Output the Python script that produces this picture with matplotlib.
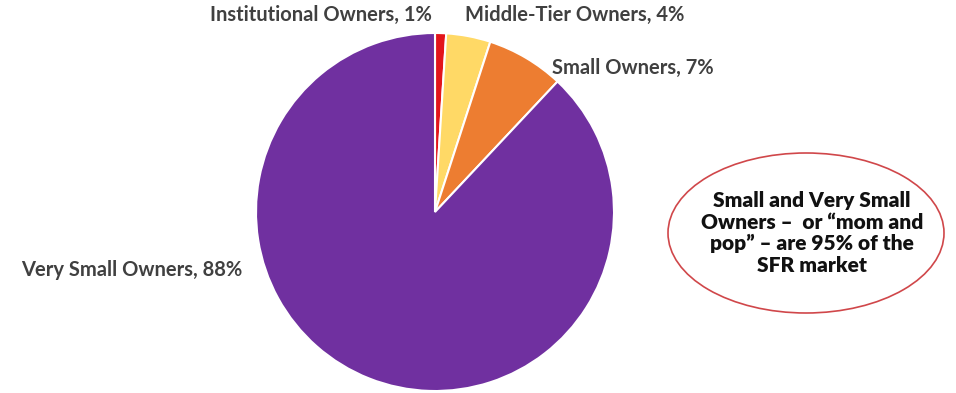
import matplotlib
matplotlib.use("Agg")
import matplotlib.pyplot as plt
from matplotlib.patches import Ellipse

# Data
categories = ["Institutional Owners", "Middle-Tier Owners", "Small Owners", "Very Small Owners"]
shares = [1, 4, 7, 88]
colors = ["#E3151B", "#FFD966", "#ED7D31", "#7030A0"]
callout = "Small and Very Small\nOwners \u2013  or \u201cmom and\npop\u201d \u2013 are 95% of the\nSFR market"

W, H = 956, 393
plt.rcParams["font.family"] = ["Lato", "DejaVu Sans"]
TEXT = "#404040"

fig = plt.figure(figsize=(W / 100, H / 100), dpi=100)
ax = fig.add_axes([0, 0, 1, 1])

# pie in pixel coordinates, clockwise from 12 o'clock
cx, cy, r = 435, H - 212, 179
ax.pie(shares, colors=colors, startangle=90, counterclock=False,
       center=(cx, cy), radius=r,
       wedgeprops=dict(edgecolor="white", linewidth=1.5))

ax.set_xlim(0, W)
ax.set_ylim(0, H)
ax.set_aspect("equal")
ax.axis("off")

# slice labels
label_pos = {
    "Institutional Owners": (432, H - 15, "right"),
    "Middle-Tier Owners": (465, H - 15, "left"),
    "Small Owners": (552, H - 68, "left"),
    "Very Small Owners": (242, H - 270, "right"),
}
for name, val in zip(categories, shares):
    x, y, ha = label_pos[name]
    ax.text(x, y, f"{name}, {val}%", ha=ha, va="center",
            fontsize=14.5, fontweight="bold", color=TEXT)

# callout bubble
ax.add_patch(Ellipse((806, H - 233), 276, 160, facecolor="white",
                     edgecolor="#D0474A", linewidth=1.2))
ax.text(812, H - 233, callout, ha="center", va="center", fontsize=15,
        fontweight="heavy", color="#111111", linespacing=1.15)

fig.savefig("out.png", dpi=100)
